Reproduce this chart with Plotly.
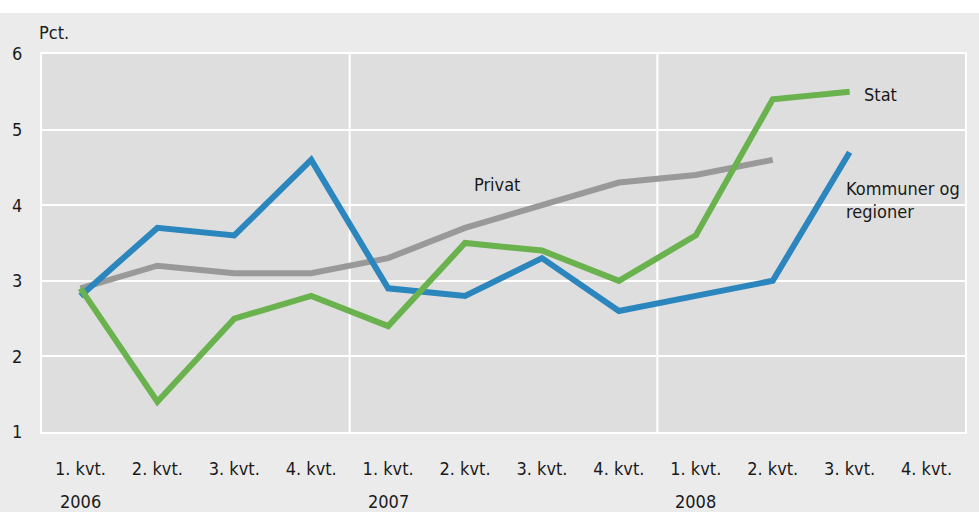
import plotly.graph_objects as go

quarters = ["1. kvt.", "2. kvt.", "3. kvt.", "4. kvt."] * 3
years = ["2006", "2007", "2008"]
x_idx = list(range(12))

privat = [2.9, 3.2, 3.1, 3.1, 3.3, 3.7, 4.0, 4.3, 4.4, 4.6]
kommuner = [2.8, 3.7, 3.6, 4.6, 2.9, 2.8, 3.3, 2.6, 2.8, 3.0, 4.7]
stat = [2.9, 1.4, 2.5, 2.8, 2.4, 3.5, 3.4, 3.0, 3.6, 5.4, 5.5]

FONT = "Liberation Sans Narrow, Arial Narrow, DejaVu Sans Condensed, sans-serif"
FS = 18

fig = go.Figure()
fig.add_trace(go.Scatter(x=x_idx[:len(privat)], y=privat, mode="lines",
                         line=dict(color="#999999", width=6), name="Privat"))
fig.add_trace(go.Scatter(x=x_idx[:len(kommuner)], y=kommuner, mode="lines",
                         line=dict(color="#2a86bd", width=6), name="Kommuner og regioner"))
fig.add_trace(go.Scatter(x=x_idx[:len(stat)], y=stat, mode="lines",
                         line=dict(color="#6ab24e", width=6), name="Stat"))

# white band at the very top of the page
fig.add_shape(type="rect", xref="paper", yref="paper", x0=-0.1, x1=1.1,
              y0=1.1085, y1=1.3, fillcolor="white", line_width=0, layer="below")

# year dividers
for xv in [3.5, 7.5]:
    fig.add_shape(type="line", xref="x", yref="paper", x0=xv, x1=xv, y0=0, y1=1,
                  line=dict(color="white", width=2), layer="below")

# series labels
fig.add_annotation(x=10.16, y=5.46, text="Stat", showarrow=False, xanchor="left",
                   yanchor="middle", font=dict(size=FS, color="#1a1a1a", family=FONT))
fig.add_annotation(x=5.41, y=4.27, text="Privat", showarrow=False, xanchor="center",
                   yanchor="middle", font=dict(size=FS, color="#1a1a1a", family=FONT))
fig.add_annotation(x=9.93, y=4.07, text="Kommuner og<br>regioner", showarrow=False,
                   xanchor="left", yanchor="middle", align="left",
                   font=dict(size=FS, color="#1a1a1a", family=FONT))

# year labels
for i, yr in enumerate(years):
    fig.add_annotation(x=i * 4, y=-0.185, yref="paper", text=yr, showarrow=False,
                       xanchor="center", yanchor="middle",
                       font=dict(size=FS, color="#1a1a1a", family=FONT))

fig.add_annotation(x=-0.005, y=1.056, xref="paper", yref="paper", text="Pct.",
                   showarrow=False, xanchor="left", yanchor="middle",
                   font=dict(size=FS, color="#1a1a1a", family=FONT))

fig.update_layout(
    width=979, height=512,
    margin=dict(l=41, r=12, t=54, b=80),
    paper_bgcolor="#ebebeb", plot_bgcolor="#dedede",
    showlegend=False,
    font=dict(family=FONT, size=FS, color="#1a1a1a"),
    xaxis=dict(range=[-0.5, 11.5], tickvals=x_idx, ticktext=quarters,
               showgrid=False, zeroline=False, ticks="outside", ticklen=19,
               tickcolor="rgba(0,0,0,0)", showline=True, linecolor="white",
               linewidth=2, mirror=True, fixedrange=True),
    yaxis=dict(range=[1, 6], tickvals=[1, 2, 3, 4, 5, 6], showgrid=True,
               gridcolor="white", gridwidth=2, zeroline=False, ticks="outside",
               ticklen=14, tickcolor="rgba(0,0,0,0)", showline=True,
               linecolor="white", linewidth=2, mirror=True, fixedrange=True),
)

fig.write_html("out.html", config={"displayModeBar": False},
               post_script="document.body.style.margin='0';")
